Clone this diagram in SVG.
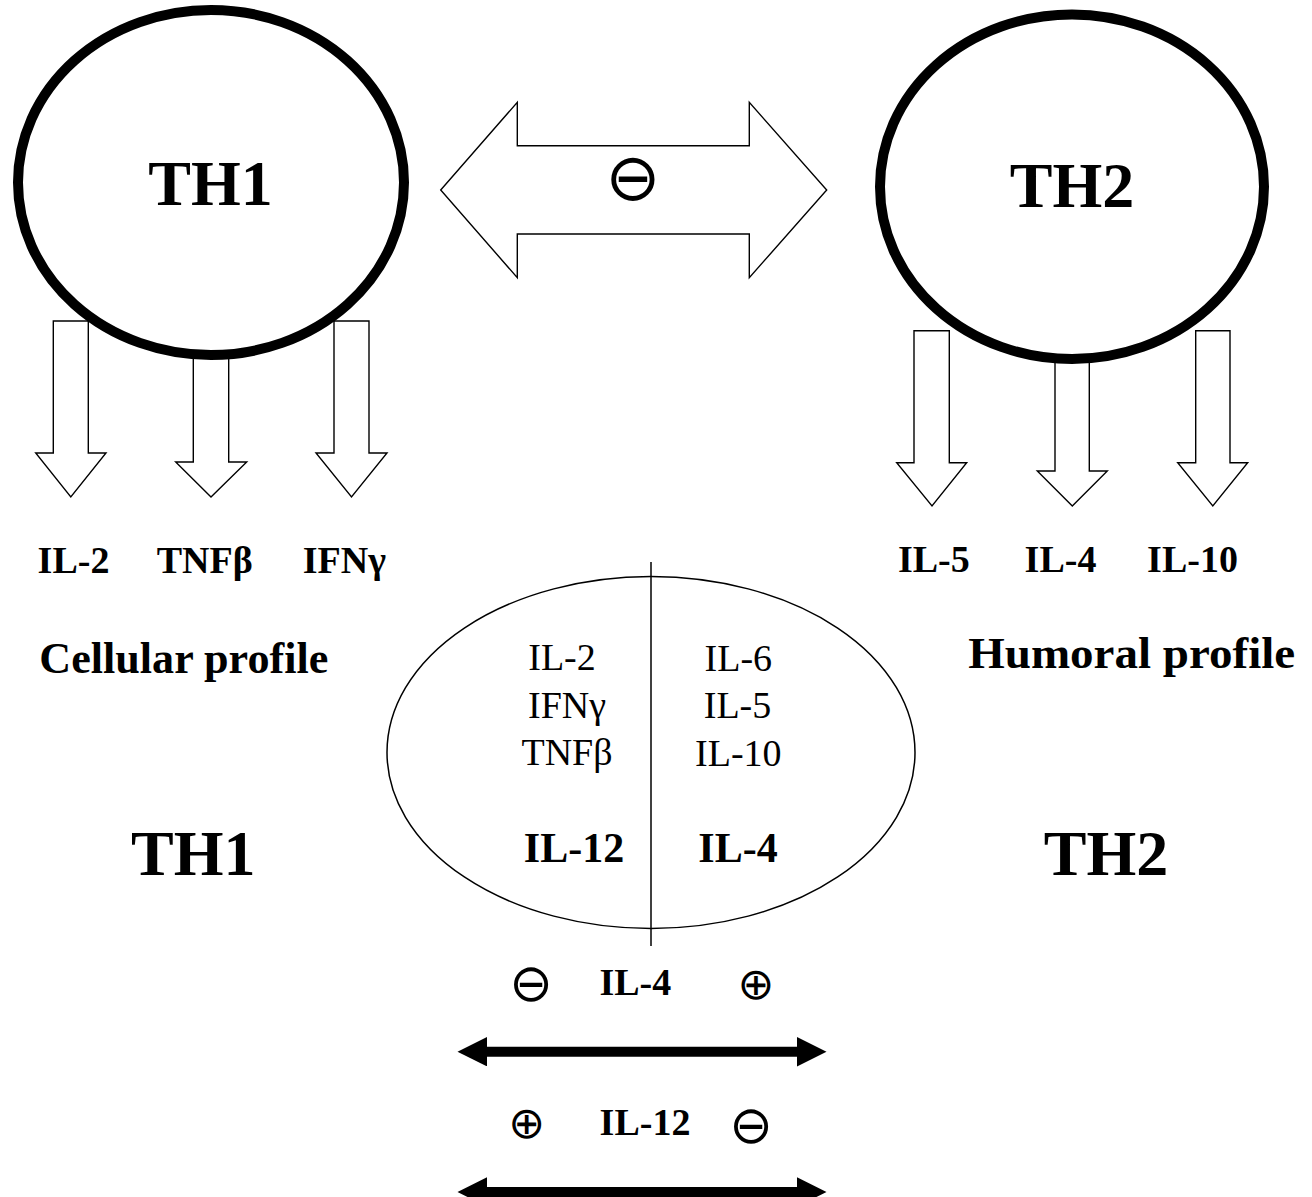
<svg xmlns="http://www.w3.org/2000/svg" width="1312" height="1197" viewBox="0 0 1312 1197">
<style>
  .bg{fill:#fff}
  .cell{fill:#fff;stroke:#000;stroke-width:10}
  .out{fill:#fff;stroke:#000;stroke-width:1.4;stroke-linejoin:miter}
  .thin{fill:none;stroke:#000;stroke-width:1.5}
  .bold-line{fill:none;stroke:#000;stroke-width:10}
  .t{font-family:"Liberation Serif","Times New Roman",serif;fill:#000;text-anchor:middle}
  .b{font-weight:bold}
  .big{font-size:64px}
  .lab{font-size:38px}
  .prof{font-size:44px}
  .mid{font-size:42px}
  .sym{font-family:"DejaVu Sans",sans-serif;fill:#000;text-anchor:middle;dominant-baseline:central}
</style>
<defs>
  <marker id="head" markerUnits="userSpaceOnUse" markerWidth="30" markerHeight="30" refX="0" refY="14.7" orient="auto-start-reverse" viewBox="0 0 30 30">
    <path d="M0,0 L29.5,14.7 L0,29.4 Z" fill="#000"/>
  </marker>
</defs>
<rect class="bg" x="0" y="0" width="1312" height="1197"/>

<g id="connectors">
  <path id="a-th1-il2" class="out" d="M53.3,321 H88.3 V453 H106 L70.8,497 L35.7,453 H53.3 Z"/>
  <path id="a-th1-tnf" class="out" d="M193.3,340 H228.7 V462 H246.7 L211,497 L175.7,462 H193.3 Z"/>
  <path id="a-th1-ifn" class="out" d="M334,321 H369 V453 H387 L351.5,497 L316,453 H334 Z"/>
  <path id="a-th2-il5" class="out" d="M914,330.7 H949.3 V462.7 H966.7 L932,506 L896.7,462.7 H914 Z"/>
  <path id="a-th2-il4" class="out" d="M1055,350 H1089.3 V471 H1107.3 L1072.3,506 L1037.3,471 H1055 Z"/>
  <path id="a-th2-il10" class="out" d="M1195.7,330.7 H1230 V462.7 H1247.7 L1212.8,506 L1177.7,462.7 H1195.7 Z"/>
  <path id="a-th1-th2" class="out" d="M440.7,190 L517.3,102.3 V145.7 H749.3 V102.3 L826.7,190 L749.3,277.7 V234 H517.3 V277.7 Z"/>
  <line id="a-il4" class="bold-line" x1="487" y1="1051.7" x2="797" y2="1051.7" marker-start="url(#head)" marker-end="url(#head)"/>
  <line id="a-il12" class="bold-line" x1="487" y1="1192" x2="797" y2="1192" marker-start="url(#head)" marker-end="url(#head)"/>
</g>

<g id="th1">
  <ellipse class="cell" cx="211" cy="182.5" rx="193" ry="172.5"/>
  <text class="t b big" x="210.5" y="205">TH1</text>
</g>
<g id="th2">
  <ellipse class="cell" cx="1072" cy="186.7" rx="192" ry="172.3"/>
  <text class="t b big" x="1072" y="206.7">TH2</text>
</g>

<g id="inhibit-top">
  <text class="sym" x="633" y="177" font-size="66">⊖</text>
</g>

<g id="th1-cytokines">
  <text class="t b lab" x="73.5" y="572.7">IL-2</text>
  <text class="t b lab" x="204.7" y="572.7">TNFβ</text>
  <text class="t b lab" x="344.3" y="572.7">IFNγ</text>
  <text class="t b prof" x="183.8" y="673.3" textLength="289" lengthAdjust="spacingAndGlyphs">Cellular profile</text>
</g>
<g id="th2-cytokines">
  <text class="t b lab" x="933.8" y="571.7">IL-5</text>
  <text class="t b lab" x="1060.5" y="571.7">IL-4</text>
  <text class="t b lab" x="1192.5" y="571.7">IL-10</text>
  <text class="t b prof" x="1131.7" y="668.3" textLength="327" lengthAdjust="spacingAndGlyphs">Humoral profile</text>
</g>

<g id="center-ellipse">
  <ellipse class="thin" cx="651" cy="752.5" rx="264" ry="176"/>
  <line class="thin" x1="651" y1="562" x2="651" y2="946"/>
  <text class="t lab" x="562" y="670">IL-2</text>
  <text class="t lab" x="567" y="718.3">IFNγ</text>
  <text class="t lab" x="567" y="765">TNFβ</text>
  <text class="t b mid" x="574" y="861.7">IL-12</text>
  <text class="t lab" x="738.3" y="670.7">IL-6</text>
  <text class="t lab" x="737.5" y="718.3">IL-5</text>
  <text class="t lab" x="738.3" y="765.7">IL-10</text>
  <text class="t b mid" x="738" y="861.7">IL-4</text>
</g>

<g id="th1-big">
  <text class="t b big" x="193.3" y="875">TH1</text>
</g>
<g id="th2-big">
  <text class="t b big" x="1106" y="875">TH2</text>
</g>

<g id="il4-row">
  <text class="sym" x="531" y="983.3" font-size="52">⊖</text>
  <text class="t b lab" x="635.3" y="995">IL-4</text>
  <text class="sym" x="756" y="983.3" font-size="44">⊕</text>
</g>
<g id="il12-row">
  <text class="sym" x="526.7" y="1122.7" font-size="44">⊕</text>
  <text class="t b lab" x="645" y="1135">IL-12</text>
  <text class="sym" x="751" y="1125" font-size="52">⊖</text>
</g>
</svg>
